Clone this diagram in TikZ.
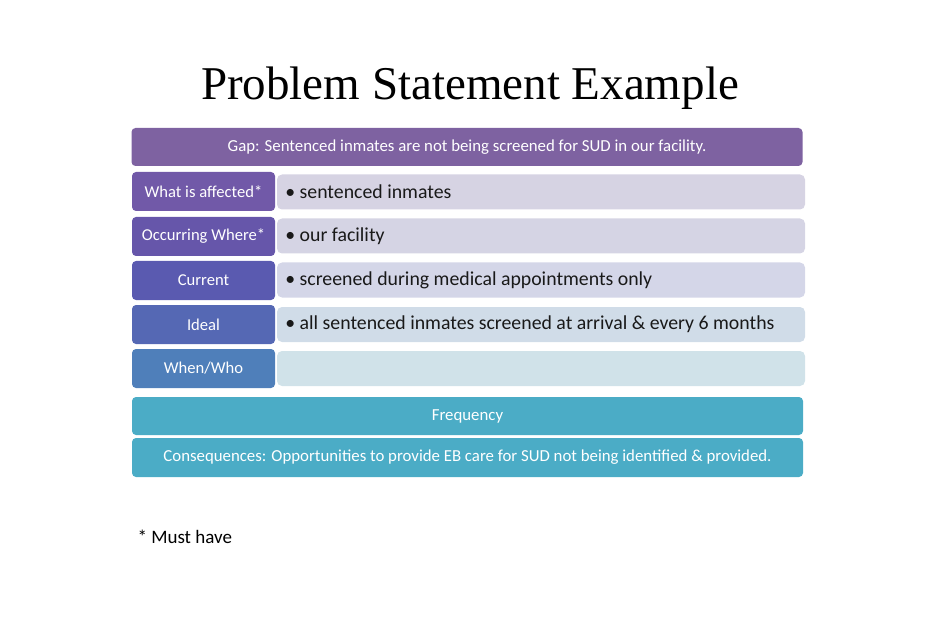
\documentclass[tikz,border=0pt]{standalone}
\usepackage{fontspec}
\setmainfont{Carlito}
\newfontfamily\titlefont{Liberation Serif}
\usetikzlibrary{positioning}
\definecolor{gapcol}{RGB}{126,98,161}
\definecolor{labA}{RGB}{113,89,168}
\definecolor{labB}{RGB}{102,86,170}
\definecolor{labC}{RGB}{90,90,176}
\definecolor{labD}{RGB}{85,104,180}
\definecolor{labE}{RGB}{79,127,186}
\definecolor{barA}{RGB}{214,211,227}
\definecolor{barB}{RGB}{213,212,228}
\definecolor{barC}{RGB}{212,214,232}
\definecolor{barD}{RGB}{208,220,232}
\definecolor{barE}{RGB}{208,226,233}
\definecolor{tealcol}{RGB}{75,172,198}
\begin{document}
\begin{tikzpicture}[x=1pt, y=-1pt,
	banner/.style={rounded corners=4pt, text=white, minimum width=671pt, font=\fontsize{16.8}{19}\selectfont, inner sep=0pt},
	labelbox/.style={fill=#1, rounded corners=4pt, text=white, minimum width=143pt, minimum height=39pt, font=\fontsize{16.6}{19}\selectfont, inner sep=0pt},
	barbox/.style={fill=#1, rounded corners=5pt, minimum width=528pt, minimum height=35pt, inner sep=0pt},
	bartext/.style={font=\fontsize{19.8}{22}\selectfont, text=black!90}]
	\useasboundingbox (0,0) rectangle (941,617);
	% title
	\node[font=\titlefont\fontsize{47}{52}\selectfont] (title) at (470,88) {Problem Statement Example};
	% gap
	\node[banner, fill=gapcol, minimum height=38pt] (gap) at (467,147) {Gap: Sentenced inmates are not being screened for SUD in our facility.};
	% rows
	\node[labelbox=labA] (affected) at (203.5,191.5) {What is affected*};
	\node[labelbox=labB] (where) at (203.5,236.5) {Occurring Where*};
	\node[labelbox=labC] (current) at (203.5,280.5) {Current};
	\node[labelbox=labD] (ideal) at (203.5,324.5) {Ideal};
	\node[labelbox=labE] (whenwho) at (203.5,368.5) {When/Who};
	\node[barbox=barA] (baraffected) at (541,192) {};
	\node[barbox=barB] (barwhere) at (541,236) {};
	\node[barbox=barC] (barcurrent) at (541,280) {};
	\node[barbox=barD] (barideal) at (541,324.5) {};
	\node[barbox=barE] (barwhenwho) at (541,368.5) {};
	\node[bartext, right=5pt of baraffected.west] {• sentenced inmates};
	\node[bartext, right=5pt of barwhere.west] {• our facility};
	\node[bartext, right=5pt of barcurrent.west] {• screened during medical appointments only};
	\node[bartext, right=5pt of barideal.west] {• all sentenced inmates screened at arrival \& every 6 months};
	% bottom
	\node[banner, fill=tealcol, minimum height=38pt] (freq) at (467.5,416) {Frequency};
	\node[banner, fill=tealcol, minimum height=39pt] (conseq) at (467.5,457.5) {Consequences: Opportunities to provide EB care for SUD not being identified \& provided.};
	\node[anchor=west, font=\fontsize{19}{21}\selectfont] (note) at (134,537) {* Must have};
\end{tikzpicture}
\end{document}
